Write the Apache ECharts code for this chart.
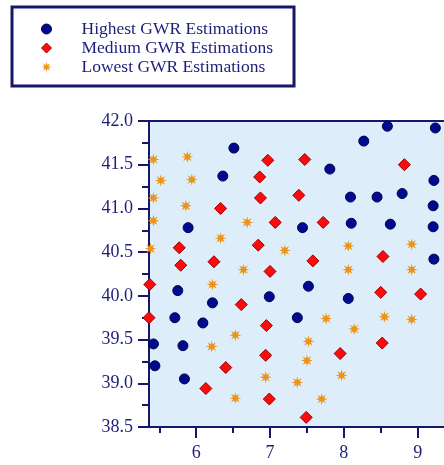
<!DOCTYPE html>
<html>
<head>
<meta charset="utf-8">
<script src="https://cdn.jsdelivr.net/npm/echarts@6/dist/echarts.min.js"></script>
<style>
  html, body { margin: 0; padding: 0; background: #fff; }
  #chart { width: 444px; height: 465px; }
</style>
</head>
<body>
<div id="chart"></div>
<script>
// series names
const seriesNames = ['Highest GWR Estimations', 'Medium GWR Estimations', 'Lowest GWR Estimations']

// [x, y] points
const highest = [
  [6.51, 41.69], [6.36, 41.37], [5.89, 40.78], [7.81, 41.45], [7.44, 40.78],
  [8.59, 41.94], [9.24, 41.92], [8.27, 41.77], [9.22, 41.32], [8.09, 41.13],
  [8.45, 41.13], [8.79, 41.17], [9.21, 41.03], [8.10, 40.83], [8.63, 40.82],
  [9.21, 40.79], [9.22, 40.42], [5.75, 40.06], [6.22, 39.92], [7.52, 40.11],
  [6.99, 39.99], [8.06, 39.97], [5.71, 39.75], [6.09, 39.69], [7.37, 39.75],
  [5.42, 39.45], [5.82, 39.43], [5.44, 39.20], [5.84, 39.05]
]
const medium = [
  [6.33, 41.00], [5.77, 40.55], [5.79, 40.35], [6.24, 40.39], [6.97, 41.55],
  [7.47, 41.56], [6.86, 41.36], [6.87, 41.12], [7.39, 41.15], [7.07, 40.84],
  [7.72, 40.84], [6.84, 40.58], [7.58, 40.40], [7.00, 40.28], [8.82, 41.50],
  [8.53, 40.45], [5.37, 40.13], [6.61, 39.90], [5.36, 39.75], [6.95, 39.66],
  [6.40, 39.18], [6.13, 38.94], [6.94, 39.32], [7.95, 39.34], [6.99, 38.82],
  [7.49, 38.61], [8.50, 40.04], [9.04, 40.02], [8.52, 39.46]
]
const lowest = [
  [5.42, 41.56], [5.88, 41.59], [5.52, 41.32], [5.94, 41.33], [5.42, 41.12],
  [5.86, 41.03], [5.42, 40.86], [6.33, 40.66], [5.38, 40.54], [6.69, 40.84],
  [6.64, 40.30], [7.20, 40.52], [8.06, 40.57], [8.92, 40.59], [8.06, 40.30],
  [8.92, 40.30], [6.22, 40.13], [6.53, 39.55], [6.21, 39.42], [6.53, 38.83],
  [7.76, 39.74], [8.55, 39.76], [8.92, 39.73], [8.14, 39.62], [7.52, 39.48],
  [7.50, 39.26], [6.94, 39.07], [7.37, 39.01], [7.97, 39.09], [7.70, 38.82]
]

// axis ticks
const xMajorTicks = [6, 7, 8, 9]
const xMinorTicks = [5.5, 6.5, 7.5, 8.5]

const NAVY = '#16166a'
const TEXT = '#1e1e7a'
const FONT = 'Liberation Serif'
const X_MIN = 5.36
const X_MAX = 9.357

// little asterisk made as an 8 point star
function starPath(n, rIn) {
  let p = ''
  for (let i = 0; i < n * 2; i++) {
    const r = i % 2 ? rIn : 10
    const a = Math.PI * i / n - Math.PI / 2
    p += (i ? 'L' : 'M') + (10 + r * Math.cos(a)).toFixed(2) + ' ' + (10 + r * Math.sin(a)).toFixed(2)
  }
  return 'path://' + p + 'Z'
}
const ASTERISK = starPath(8, 4.2)

const chart = echarts.init(document.getElementById('chart'), null, { renderer: 'canvas' })

const baseX = {
  type: 'value',
  min: X_MIN,
  max: X_MAX,
  position: 'bottom',
  splitLine: { show: false }
}

chart.setOption({
  animation: false,
  legend: {
    orient: 'vertical',
    left: 12,
    top: 7,
    itemWidth: 10,
    itemHeight: 10,
    itemGap: 1,
    padding: [13, 21, 10, 29],
    borderColor: NAVY,
    borderWidth: 3,
    selectedMode: false,
    itemStyle: { borderWidth: 1 },
    data: [
      { name: seriesNames[0], icon: 'circle' },
      { name: seriesNames[1], icon: 'diamond' },
      { name: seriesNames[2], icon: ASTERISK, itemStyle: { borderWidth: 0 } }
    ],
    textStyle: {
      fontFamily: FONT,
      fontSize: 17.5,
      lineHeight: 18,
      color: TEXT,
      padding: [0, 0, 0, 25]
    }
  },
  grid: {
    left: 149,
    top: 121,
    bottom: 38,
    right: 0,
    show: true,
    backgroundColor: '#ddedfa',
    borderWidth: 0
  },
  xAxis: [
    Object.assign({}, baseX, {
      axisLine: { show: true, lineStyle: { color: NAVY, width: 2 } },
      axisTick: { show: true, customValues: xMajorTicks, length: 11, lineStyle: { color: NAVY, width: 2 } },
      axisLabel: { customValues: xMajorTicks, margin: 17, color: TEXT, fontFamily: FONT, fontSize: 18 }
    }),
    Object.assign({}, baseX, {
      axisLine: { show: false },
      axisTick: { show: true, customValues: xMinorTicks, length: 6, lineStyle: { color: NAVY, width: 2 } },
      axisLabel: { show: false }
    }),
    // top frame line
    Object.assign({}, baseX, {
      position: 'top',
      axisLine: { show: true, lineStyle: { color: NAVY, width: 2 } },
      axisTick: { show: false },
      axisLabel: { show: false }
    })
  ],
  yAxis: {
    type: 'value',
    min: 38.5,
    max: 42,
    interval: 0.5,
    splitLine: { show: false },
    axisLine: { show: true, lineStyle: { color: NAVY, width: 2 } },
    axisTick: { show: true, length: 11, lineStyle: { color: NAVY, width: 2 } },
    minorTick: { show: true, splitNumber: 2, length: 7, lineStyle: { color: NAVY, width: 2 } },
    axisLabel: {
      margin: 16,
      color: TEXT,
      fontFamily: FONT,
      fontSize: 18,
      formatter: v => v.toFixed(1)
    }
  },
  series: [
    {
      name: seriesNames[0],
      type: 'scatter',
      data: highest,
      symbol: 'circle',
      symbolSize: 10,
      clip: false,
      itemStyle: { color: '#000a8e', borderColor: '#00004f', borderWidth: 1, opacity: 1 }
    },
    {
      name: seriesNames[1],
      type: 'scatter',
      data: medium,
      symbol: 'diamond',
      symbolSize: 12,
      clip: false,
      itemStyle: { color: '#ff0a0a', borderColor: '#9a0000', borderWidth: 1, opacity: 1 }
    },
    {
      name: seriesNames[2],
      type: 'scatter',
      data: lowest,
      symbol: ASTERISK,
      symbolSize: 12,
      clip: false,
      itemStyle: { color: '#ec9417', borderWidth: 0, opacity: 1 }
    }
  ]
})
</script>
</body>
</html>
